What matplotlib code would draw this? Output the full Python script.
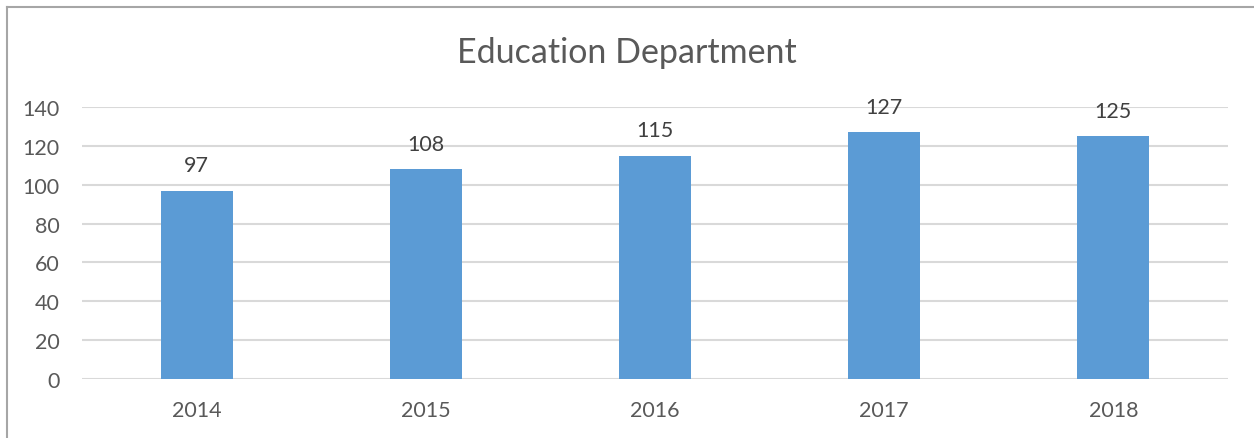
import matplotlib
matplotlib.use("Agg")
import matplotlib.pyplot as plt
from matplotlib.lines import Line2D

years = ["2014", "2015", "2016", "2017", "2018"]
values = [97, 108, 115, 127, 125]
yticks = [0, 20, 40, 60, 80, 100, 120, 140]

plt.rcParams['font.family'] = ['Lato', 'DejaVu Sans']
W, H = 1254, 439
fig = plt.figure(figsize=(W/100, H/100), dpi=100)
ax = fig.add_axes([82/W, 1-380/H, (1228-82)/W, (380-108)/H])

x = list(range(len(years)))
bars = ax.bar(x, values, width=0.315, color="#5B9BD5", zorder=3)
for xi, v in zip(x, values):
    ax.annotate(str(v), (xi, v), xytext=(0, 11), textcoords="offset points",
                ha="center", va="bottom", fontsize=15.5, color="#404040")

ax.set_xlim(-0.5, len(years)-0.5)
ax.set_ylim(0, 140)
ax.set_yticks(yticks)
ax.set_xticks(x)
ax.set_xticklabels(years)
ax.tick_params(axis="both", length=0, labelsize=15.5, labelcolor="#595959")
ax.tick_params(axis="y", pad=16)
ax.tick_params(axis="x", pad=15)
ax.grid(axis="y", color="#D9D9D9", linewidth=1.5, zorder=0)
for s in ax.spines.values():
    s.set_visible(False)

fig.text(0.5, 1-53/H, "Education Department", ha="center", va="center",
         fontsize=24.5, color="#595959")

fig.add_artist(Line2D([7/W, 7/W], [0, 1-8/H], transform=fig.transFigure,
                      color="#A6A6A6", linewidth=1.5))
fig.add_artist(Line2D([7/W, 1], [1-8/H, 1-8/H], transform=fig.transFigure,
                      color="#A6A6A6", linewidth=1.5))

fig.savefig("out.png", dpi=100, facecolor="white")
